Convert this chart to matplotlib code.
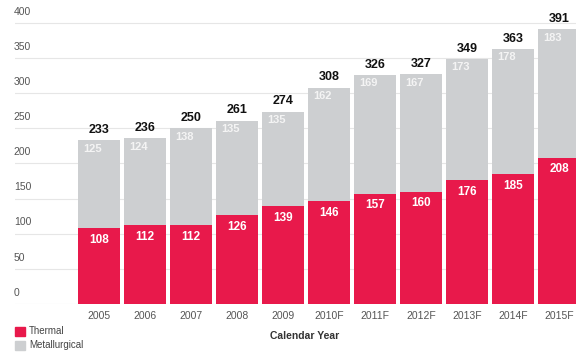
import matplotlib.pyplot as plt
from matplotlib.patches import Rectangle

# ─── Data ─────────────────────────────────────────────────────────────────────

years = ['2005', '2006', '2007', '2008', '2009', '2010F', '2011F',
         '2012F', '2013F', '2014F', '2015F']
thermal = [108, 112, 112, 126, 139, 146, 157, 160, 176, 185, 208]
metallurgical = [125, 124, 138, 135, 135, 162, 169, 167, 173, 178, 183]
totals = [233, 236, 250, 261, 274, 308, 326, 327, 349, 363, 391]
y_ticks = [0, 50, 100, 150, 200, 250, 300, 350, 400]

RED = '#e8194b'
GREY = '#cdcfd1'
TICK_COLOR = '#555555'

plt.rcParams['font.family'] = ['Liberation Sans', 'DejaVu Sans']

W, H = 576, 356
fig = plt.figure(figsize=(W / 100, H / 100), dpi=100)

# axes from x=15px to the right edge, y=0 at 304px, 0.7025 px per unit
ymax = 420
ax = fig.add_axes([15 / W, (H - 304) / H, 1 - 15 / W, ymax * 0.7025 / H])
ax.set_xlim(-1.826, 10.37)
ax.set_ylim(0, ymax)

x = list(range(len(years)))
width = 0.913

for v in y_ticks:
    ax.axhline(v, color='#e6e6e6', lw=0.8, zorder=0)
    ax.text(-0.002, v + 9, str(v), transform=ax.get_yaxis_transform(),
            ha='left', va='bottom', fontsize=7.5, color=TICK_COLOR)

ax.bar(x, thermal, width, color=RED, zorder=2, linewidth=0)
ax.bar(x, metallurgical, width, bottom=thermal, color=GREY, zorder=2,
       linewidth=0)

for i in x:
    ax.annotate(str(totals[i]), (i, totals[i]), xytext=(0, 3),
                textcoords='offset points', ha='center', va='bottom',
                fontsize=9, fontweight='bold', color='#111111')
    ax.annotate(str(metallurgical[i]), (i - 0.15, totals[i]),
                xytext=(0, -2.5), textcoords='offset points', ha='center',
                va='top', fontsize=8, fontweight='bold', color='#f4f4f4')
    ax.annotate(str(thermal[i]), (i, thermal[i]), xytext=(0, -4),
                textcoords='offset points', ha='center', va='top',
                fontsize=8.5, fontweight='bold', color='white')
    ax.text(i, -10, years[i], ha='center', va='top', fontsize=7.5,
            color=TICK_COLOR)

for s in ax.spines.values():
    s.set_visible(False)
ax.set_xticks([])
ax.set_yticks([])

# axis title and legend
fig.text(305 / W, 1 - 336 / H, 'Calendar Year', ha='center', va='center',
         fontsize=7.5, fontweight='bold', color='#333333')
fig.patches.append(Rectangle((15 / W, 1 - 336 / H), 10 / W, 9 / H,
                             transform=fig.transFigure, color=RED))
fig.patches.append(Rectangle((15 / W, 1 - 350 / H), 10 / W, 9 / H,
                             transform=fig.transFigure, color=GREY))
fig.text(29 / W, 1 - 331.5 / H, 'Thermal', va='center', fontsize=7,
         color='#444444')
fig.text(29 / W, 1 - 345.5 / H, 'Metallurgical', va='center', fontsize=7,
         color='#444444')

fig.savefig('out.png', dpi=100)
